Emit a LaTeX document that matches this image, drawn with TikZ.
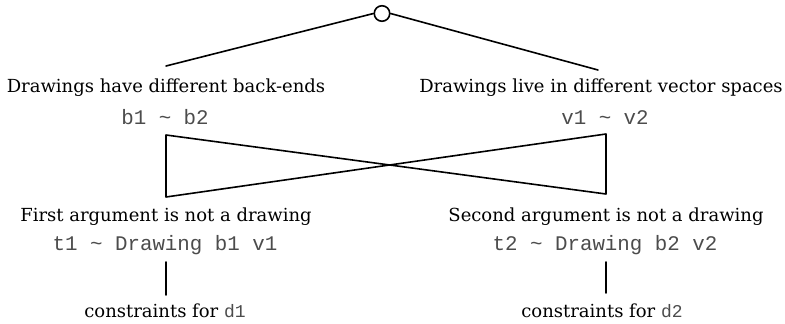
\documentclass[tikz,border=0pt]{standalone}
\usepackage{fontspec}
\setmainfont{DejaVu Serif}
\setmonofont{Liberation Mono}
\begin{document}
\begin{tikzpicture}[x=1pt,y=-1pt]
\tikzset{
  conn/.style={line width=1.6pt, line join=round, line cap=round},
  headtxt/.style={anchor=base, inner sep=0pt, font=\fontsize{18}{21}\selectfont},
  codetxt/.style={anchor=base, inner sep=0pt, text=black!70, font=\ttfamily\fontsize{20.8}{24}\selectfont},
  choice/.style={draw, circle, line width=1.6pt, minimum size=15.5pt, inner sep=0pt, fill=white},
}
\useasboundingbox (0,0) rectangle (785,324);

% root of the tree
\node[choice] (root) at (382,13.5) {};
\coordinate (lhead) at (166,66);
\coordinate (rhead) at (598,70);
\draw[conn] (root.west) -- (lhead);
\draw[conn] (root.east) -- (rhead);

% first level
\node[headtxt] (ltitle) at (166,92) {Drawings have different back-ends};
\node[headtxt] (rtitle) at (601,92) {Drawings live in different vector spaces};
\node[codetxt] (lcode) at (165,124) {b1 \textasciitilde{} b2};
\node[codetxt] (rcode) at (605,124) {v1 \textasciitilde{} v2};

% crossed links between the levels
\coordinate (lu) at (166,135);
\coordinate (ru) at (606,134);
\coordinate (ll) at (166,197);
\coordinate (rl) at (606,194);
\draw[conn] (lu) -- (rl) -- (ru) -- (ll) -- cycle;

% second level
\node[headtxt] (lsub) at (166,221) {First argument is not a drawing};
\node[headtxt] (rsub) at (606,221) {Second argument is not a drawing};
\node[codetxt] (lsubcode) at (165,250) {t1 \textasciitilde{} Drawing b1 v1};
\node[codetxt] (rsubcode) at (605,250) {t2 \textasciitilde{} Drawing b2 v2};

% leaves
\coordinate (lstem) at (166,262);
\coordinate (rstem) at (606,262);
\node[headtxt] (lleaf) at (165,317) {constraints for {\color{black!70}\texttt{d1}}};
\node[headtxt] (rleaf) at (602,317) {constraints for {\color{black!70}\texttt{d2}}};
\coordinate (lfoot) at (166,295);
\coordinate (rfoot) at (606,293);
\draw[conn] (lstem) -- (lfoot);
\draw[conn] (rstem) -- (rfoot);
\end{tikzpicture}
\end{document}
